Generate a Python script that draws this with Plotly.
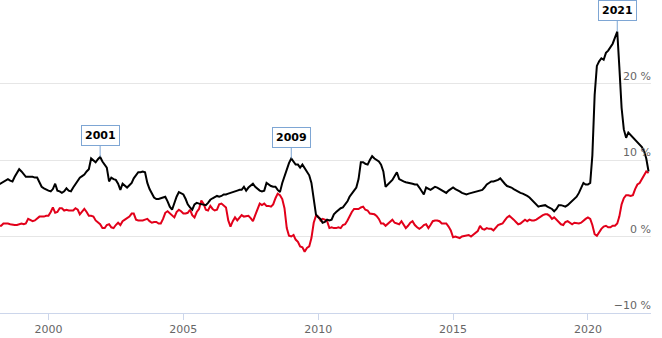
import pandas as pd
import plotly.graph_objects as go

start_month = "1998-03-01"

# US money supply M2, year-over-year change in % (black line), monthly from Mar 1998
m2_yoy = [
    6.8, 7.0, 7.2, 7.3, 7.5, 7.3, 7.2, 7.8, 8.4, 8.8,                    # 1998 (Mar-Dec)
    8.5, 8.2, 7.8, 7.8, 7.8, 7.8, 7.7, 7.7, 7.1, 6.5, 6.3, 6.1,          # 1999
    6.0, 5.9, 6.2, 6.9, 6.0, 5.9, 5.7, 5.9, 6.3, 6.0, 5.9, 6.4,          # 2000
    6.9, 7.4, 7.7, 7.9, 8.1, 8.5, 8.8, 10.2, 10.0, 9.7, 10.1, 10.4,      # 2001
    9.8, 9.3, 9.0, 7.2, 7.7, 7.5, 7.4, 6.9, 6.1, 6.9, 6.6, 6.4,          # 2002
    6.7, 7.0, 7.6, 8.1, 8.4, 8.4, 8.5, 8.4, 7.0, 6.2, 5.6, 5.1,          # 2003
    4.9, 4.9, 5.0, 5.1, 5.2, 4.6, 3.9, 3.5, 4.4, 5.2, 5.8, 5.7,          # 2004
    5.5, 4.9, 4.2, 3.8, 3.5, 4.2, 4.4, 4.3, 4.2, 4.2, 4.1, 4.4,          # 2005
    4.8, 5.0, 5.2, 5.3, 5.2, 5.3, 5.5, 5.5, 5.6, 5.7, 5.8, 6.0,          # 2006
    6.0, 6.1, 6.1, 6.5, 6.0, 6.4, 6.7, 6.9, 6.5, 6.2, 6.0, 5.9,          # 2007
    6.0, 7.0, 6.8, 6.6, 6.5, 6.5, 6.1, 5.8, 7.0, 7.9, 8.8, 9.6,          # 2008
    10.2, 9.8, 9.4, 9.4, 9.0, 9.4, 8.9, 8.5, 8.0, 7.0, 4.5, 2.9,         # 2009
    2.5, 2.3, 1.8, 1.9, 2.2, 2.1, 2.2, 2.9, 3.2, 3.5, 3.7, 3.8,          # 2010
    4.2, 4.6, 5.2, 5.7, 6.0, 6.4, 7.5, 9.7, 9.7, 9.5, 9.4, 10.0,         # 2011
    10.5, 10.2, 10.0, 9.8, 9.4, 8.5, 6.5, 6.8, 7.0, 7.4, 7.9, 8.4,       # 2012
    7.5, 7.3, 7.2, 7.1, 7.0, 7.0, 6.9, 6.8, 6.8, 6.4, 6.0, 5.5,          # 2013
    6.4, 6.2, 6.1, 6.3, 6.5, 6.4, 6.2, 6.1, 5.9, 5.7, 6.0, 6.2,          # 2014
    6.4, 6.2, 6.0, 5.9, 5.7, 5.6, 5.5, 5.6, 5.7, 5.8, 5.9, 6.0,          # 2015
    6.0, 6.1, 6.4, 6.8, 7.0, 7.2, 7.2, 7.3, 7.4, 7.6, 7.2, 6.9,          # 2016
    6.6, 6.5, 6.4, 6.2, 6.0, 5.9, 5.7, 5.6, 5.5, 5.3, 5.1, 4.8,          # 2017
    4.4, 4.1, 3.9, 4.0, 4.1, 4.1, 3.9, 3.8, 3.6, 3.3, 3.6, 4.1,          # 2018
    4.1, 4.0, 3.9, 4.1, 4.4, 4.6, 4.9, 5.2, 5.7, 6.4, 7.0, 6.8,          # 2019
    6.8, 7.0, 10.6, 18.5, 22.3, 22.9, 23.3, 23.1, 24.0, 24.3, 24.8, 25.2, # 2020
    26.0, 26.8, 22.2, 16.8, 14.0, 12.9, 13.6, 13.3, 13.0, 12.7, 12.4, 12.0, # 2021
    11.7, 11.1, 10.2, 8.5,                                               # 2022 (Jan-Apr)
]

# US consumer prices, year-over-year change in % (red line), monthly from Mar 1998
cpi_yoy = [
    1.4, 1.4, 1.7, 1.7, 1.7, 1.6, 1.5, 1.5, 1.5, 1.6,                    # 1998 (Mar-Dec)
    1.7, 1.6, 1.7, 2.3, 2.1, 2.0, 2.1, 2.3, 2.6, 2.6, 2.6, 2.7,          # 1999
    2.7, 3.2, 3.8, 3.1, 3.2, 3.7, 3.7, 3.4, 3.5, 3.4, 3.4, 3.4,          # 2000
    3.7, 3.5, 2.9, 3.3, 3.6, 3.2, 2.7, 2.7, 2.6, 2.1, 1.9, 1.6,          # 2001
    1.1, 1.1, 1.5, 1.6, 1.2, 1.1, 1.5, 1.8, 1.5, 2.0, 2.2, 2.4,          # 2002
    2.6, 3.0, 3.0, 2.2, 2.1, 2.1, 2.1, 2.2, 2.3, 2.0, 1.8, 1.9,          # 2003
    1.9, 1.7, 1.7, 2.3, 3.1, 3.3, 3.0, 2.7, 2.5, 3.2, 3.5, 3.3,          # 2004
    3.0, 3.0, 3.1, 3.5, 2.8, 2.5, 3.2, 3.6, 4.7, 4.3, 3.5, 3.4,          # 2005
    4.0, 3.6, 3.4, 3.5, 4.2, 4.3, 4.1, 3.8, 2.1, 1.3, 2.0, 2.5,          # 2006
    2.1, 2.4, 2.8, 2.6, 2.7, 2.7, 2.4, 2.0, 2.8, 3.5, 4.3, 4.1,          # 2007
    4.3, 4.0, 4.0, 3.9, 4.2, 5.0, 5.6, 5.4, 4.9, 3.7, 1.1, 0.1,          # 2008
    0.0, 0.2, -0.4, -0.7, -1.3, -1.4, -2.0, -1.5, -1.3, -0.2, 1.8, 2.7,  # 2009
    2.6, 2.1, 2.3, 2.2, 2.0, 1.1, 1.2, 1.1, 1.1, 1.2, 1.1, 1.5,          # 2010
    1.6, 2.1, 2.7, 3.2, 3.6, 3.6, 3.6, 3.8, 3.9, 3.5, 3.4, 3.0,          # 2011
    2.9, 2.9, 2.7, 2.3, 1.7, 1.7, 1.4, 1.7, 2.0, 2.2, 1.8, 1.7,          # 2012
    1.6, 2.0, 1.5, 1.1, 1.4, 1.8, 2.0, 1.5, 1.2, 1.0, 1.2, 1.5,          # 2013
    1.6, 1.1, 1.5, 2.0, 2.1, 2.1, 2.0, 1.7, 1.7, 1.7, 1.3, 0.8,          # 2014
    -0.1, 0.0, -0.1, -0.2, 0.0, 0.1, 0.2, 0.2, 0.0, 0.2, 0.5, 0.7,       # 2015
    1.4, 1.0, 0.9, 1.1, 1.0, 1.0, 0.8, 1.1, 1.5, 1.6, 1.7, 2.1,          # 2016
    2.5, 2.7, 2.4, 2.2, 1.9, 1.6, 1.7, 1.9, 2.2, 2.0, 2.2, 2.1,          # 2017
    2.1, 2.2, 2.4, 2.5, 2.8, 2.9, 2.9, 2.7, 2.3, 2.5, 2.2, 1.9,          # 2018
    1.6, 1.5, 1.9, 2.0, 1.8, 1.6, 1.8, 1.7, 1.7, 1.8, 2.1, 2.3,          # 2019
    2.5, 2.3, 1.5, 0.3, 0.1, 0.6, 1.0, 1.3, 1.4, 1.2, 1.2, 1.4,          # 2020
    1.4, 1.7, 2.6, 4.2, 5.0, 5.4, 5.4, 5.3, 5.4, 6.2, 6.8, 7.0,          # 2021
    7.5, 7.9, 8.5, 8.3,                                                  # 2022 (Jan-Apr)
]

# highlighted peaks of the M2 line
peak_labels = ["2001", "2009", "2021"]
peak_months = ["2001-12-01", "2009-01-01", "2021-02-01"]

y_ticks = [-10, 0, 10, 20, 30]
y_tick_text = ["\u221210 %", "0 %", "10 %", "20 %", ""]

dates = pd.date_range(start_month, periods=len(m2_yoy), freq="MS")
m2_series = pd.Series(m2_yoy, index=dates)

FONT = "DejaVu Sans, Verdana, sans-serif"
AXIS_COLOR = "#ccd6eb"
GRID_COLOR = "#e6e6e6"
LABEL_COLOR = "#666666"
BOX_COLOR = "#7ea6d4"

fig = go.Figure()
fig.add_trace(go.Scatter(x=dates, y=cpi_yoy, mode="lines",
                         line=dict(color="#e2001a", width=2), name="Inflation"))
fig.add_trace(go.Scatter(x=dates, y=m2_yoy, mode="lines",
                         line=dict(color="#000000", width=2), name="M2"))

for label, month in zip(peak_labels, peak_months):
    fig.add_annotation(
        x=month, y=m2_series[pd.Timestamp(month)],
        text="<b>" + label + "</b>",
        showarrow=True, arrowhead=0, arrowwidth=1, arrowcolor=BOX_COLOR,
        ax=0, ay=-21,
        font=dict(family=FONT, size=11, color="#000000"),
        bgcolor="#ffffff", bordercolor=BOX_COLOR, borderwidth=1, borderpad=3,
    )

fig.update_layout(
    width=662, height=338,
    margin=dict(l=0, r=11, t=7, b=25),
    paper_bgcolor="#ffffff", plot_bgcolor="#ffffff",
    showlegend=False,
    font=dict(family=FONT, size=11, color=LABEL_COLOR),
    xaxis=dict(
        type="date",
        range=["1998-03-16", "2022-05-04"],
        tick0="2000-01-01", dtick="M60", tickformat="%Y",
        showgrid=False, zeroline=False,
        showline=True, linecolor=AXIS_COLOR, linewidth=1,
        ticks="outside", ticklen=6, tickcolor=AXIS_COLOR, tickwidth=1,
        tickfont=dict(family=FONT, size=11, color=LABEL_COLOR),
    ),
    yaxis=dict(
        side="right",
        range=[-10, 30],
        tickmode="array", tickvals=y_ticks, ticktext=y_tick_text,
        ticklabelposition="inside top",
        ticklabelstandoff=-3,
        showgrid=True, gridcolor=GRID_COLOR, gridwidth=1,
        zeroline=False, showline=False, ticks="",
        tickfont=dict(family=FONT, size=11, color=LABEL_COLOR),
    ),
)

fig.write_html("out.html")
